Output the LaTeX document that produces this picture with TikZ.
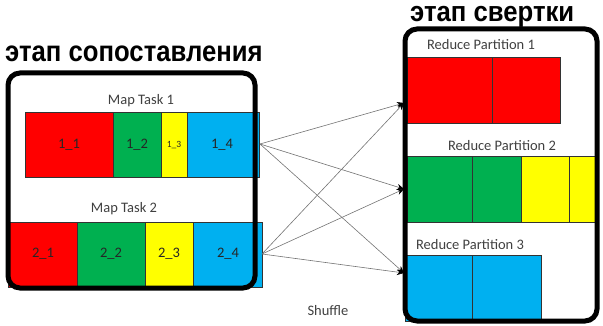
\documentclass[tikz,border=0pt]{standalone}
\usepackage{fontspec}
\setmainfont{Carlito}
\newfontfamily\titlefont{Liberation Sans}
\usetikzlibrary{arrows.meta}
\definecolor{cred}{HTML}{FF0000}
\definecolor{cgreen}{HTML}{00B050}
\definecolor{cyellow}{HTML}{FFFF00}
\definecolor{cblue}{HTML}{00B0F0}
\definecolor{ctext}{HTML}{404040}
\begin{document}
\begin{tikzpicture}[x=1pt,y=-1pt,
  bar/.style={draw=ctext!80!black,line width=0.6pt},
  lab/.style={text=ctext,font=\fontsize{14.5}{16}\selectfont,inner sep=0pt},
  stage/.style={draw=black,line width=5pt,rounded corners=12pt},
  ttl/.style={font=\titlefont\bfseries\fontsize{25.7}{27}\selectfont,inner sep=0pt,text=black,anchor=base west},
  conn/.style={draw=black!55,line width=0.6pt,-{Stealth[length=7pt,width=6pt,black]}}]
\useasboundingbox (0,0) rectangle (603,326);
% titles
\node[ttl] (t1) at (5,62) {\scalebox{1}[1.13]{этап сопоставления}};
\node[ttl] (t2) at (410,22) {\scalebox{1}[1.1]{этап свертки}};
% map task 1
\node[lab] (m1) at (141,101) {Map Task 1};
\filldraw[bar,fill=cred] (25,112) rectangle (113,177);
\filldraw[bar,fill=cgreen] (113,112) rectangle (161,177);
\filldraw[bar,fill=cyellow] (161,112) rectangle (187,177);
\filldraw[bar,fill=cblue] (187,112) rectangle (259,177);
\node[lab,text=black!85] (a11) at (69,145) {1\_1};
\node[lab,text=black!85] (a12) at (137,145) {1\_2};
\node[lab,text=black!85,font=\fontsize{9.5}{10}\selectfont] (a13) at (174,145) {1\_3};
\node[lab,text=black!85] (a14) at (222,145) {1\_4};
% map task 2
\node[lab] (m2) at (124,209) {Map Task 2};
\filldraw[bar,fill=cred] (8,222) rectangle (77,287);
\filldraw[bar,fill=cgreen] (77,222) rectangle (145,287);
\filldraw[bar,fill=cyellow] (145,222) rectangle (193,287);
\filldraw[bar,fill=cblue] (193,222) rectangle (262,287);
\node[lab,text=black!85] (a21) at (43,254) {2\_1};
\node[lab,text=black!85] (a22) at (111,254) {2\_2};
\node[lab,text=black!85] (a23) at (169,254) {2\_3};
\node[lab,text=black!85] (a24) at (228,254) {2\_4};
\draw[stage] (8,73) rectangle (255,288);
% reduce partitions
\node[lab] (r1) at (481,45) {Reduce Partition 1};
\filldraw[bar,fill=cred] (407,57) rectangle (492,123);
\filldraw[bar,fill=cred] (492,57) rectangle (560,123);
\node[lab] (r2) at (502,146) {Reduce Partition 2};
\filldraw[bar,fill=cgreen] (407,156) rectangle (472,222);
\filldraw[bar,fill=cgreen] (472,156) rectangle (521,222);
\filldraw[bar,fill=cyellow] (521,156) rectangle (569,222);
\filldraw[bar,fill=cyellow] (569,156) rectangle (598,222);
\node[lab] (r3) at (470,245) {Reduce Partition 3};
\filldraw[bar,fill=cblue] (405,255) rectangle (472,321);
\filldraw[bar,fill=cblue] (472,255) rectangle (541,321);
\draw[stage] (405,29) rectangle (597,321);
% shuffle
\coordinate (s1) at (260,144);
\coordinate (s2) at (262,254);
\coordinate (d1) at (404,103);
\coordinate (d2) at (404,189);
\coordinate (d3) at (404,273);
\foreach \s in {s1,s2}{\foreach \d in {d1,d2,d3}{\draw[conn] (\s) -- (\d);}}
\node[lab] (sh) at (328,311) {Shuffle};
\end{tikzpicture}
\end{document}
